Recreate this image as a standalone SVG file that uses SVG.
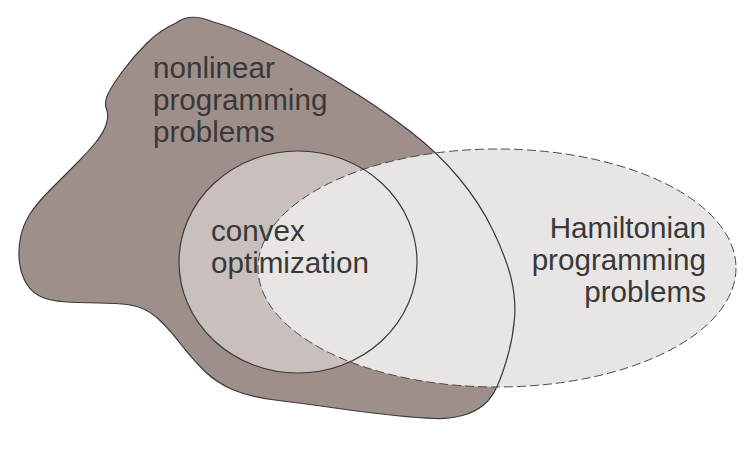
<svg xmlns="http://www.w3.org/2000/svg" xmlns:xlink="http://www.w3.org/1999/xlink" width="747" height="474" viewBox="0 0 747 474">
  <style>
    .lbl { font-family: "Liberation Sans", Arial, sans-serif; font-size: 29.6px; fill: #383838; }
    .outline { fill: none; stroke: #3a3a3a; stroke-width: 1.2; }
    .dashed { fill: none; stroke: #4a4a4a; stroke-width: 1; stroke-dasharray: 9 4; }
  </style>
  <defs>
    <path id="blobShape" d="M 213.5,22 Q 235,28 260,40 Q 285,52 310,66 Q 335,80 360,96 Q 385,112 411,132 Q 437,152 458.5,177.5 Q 480,203 493.5,231.5 Q 507,260 511.5,280 Q 516,300 514.5,318.5 Q 513,337 508,355 Q 503,373 497.5,385.5 Q 492,398 483.5,405 Q 475,412 462.5,415.5 Q 450,419 435,418.5 Q 420,418 395,415.5 Q 370,413 335,408 Q 300,403 275,400 Q 250,397 233.5,390 Q 217,383 205,371.5 Q 193,360 181.5,345 Q 170,330 160,320.5 Q 150,311 140,307.5 Q 130,304 115,303.5 Q 100,303 77.5,302.5 Q 55,302 44,298 Q 33,294 27,284.5 Q 21,275 19.5,262.5 Q 18,250 20.5,237.5 Q 23,225 30,214 Q 37,203 52,188 Q 67,173 77.5,162.5 Q 88,152 96,142 Q 104,132 106.5,123.5 Q 109,115 106.5,109 Q 104,103 107.5,95 Q 111,87 122,72 Q 133,57 146.5,43.5 Q 160,30 176,23 Q 190,12 213.5,22 Z"/>
    <ellipse id="convexShape" cx="298" cy="262" rx="119" ry="111"/>
    <ellipse id="hamShape" cx="497" cy="268" rx="239" ry="119"/>
  </defs>

  <g id="nonlinear">
    <use xlink:href="#blobShape" fill="#9e8f8b"/>
    <text class="lbl" x="153" y="78">nonlinear</text>
    <text class="lbl" x="153" y="110">programming</text>
    <text class="lbl" x="153" y="142">problems</text>
  </g>

  <g id="convex">
    <use xlink:href="#convexShape" fill="#c9bfbd"/>
  </g>

  <g id="hamiltonian">
    <use xlink:href="#hamShape" fill="#e9e5e4"/>
  </g>

  <g id="outlines">
    <use xlink:href="#blobShape" class="outline"/>
    <use xlink:href="#convexShape" class="outline"/>
    <use xlink:href="#hamShape" class="dashed"/>
  </g>

  <g id="labels">
    <text class="lbl" x="211" y="241">convex</text>
    <text class="lbl" x="211" y="273">optimization</text>
    <text class="lbl" x="706" y="238" text-anchor="end">Hamiltonian</text>
    <text class="lbl" x="706" y="270" text-anchor="end">programming</text>
    <text class="lbl" x="706" y="302" text-anchor="end">problems</text>
  </g>
</svg>
